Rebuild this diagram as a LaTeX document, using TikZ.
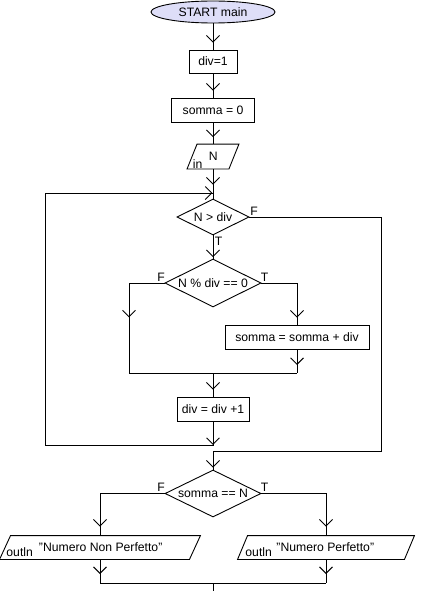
\documentclass[tikz,border=0pt]{standalone}
\usepackage{fontspec}
\setmainfont{Liberation Sans}
\usetikzlibrary{arrows.meta,shapes.geometric,decorations.markings}
\definecolor{startfill}{RGB}{222,222,248}
\tikzset{
  fctip/.tip={Straight Barb[length=6.5pt,width=13pt]},
  basefont/.style={font=\fontsize{12.2}{14}\selectfont, inner sep=0pt},
  startnode/.style={basefont, ellipse, draw, fill=startfill, minimum width=124pt, minimum height=22pt},
  procbox/.style={basefont, rectangle, draw, minimum height=24pt},
  decision/.style={basefont, diamond, draw},
  iobox/.style={basefont, rectangle, minimum height=23pt},
  txt/.style={basefont, anchor=base west},
  lbl/.style={basefont, anchor=center},
  arrowat/.style={postaction={decorate}, decoration={markings, mark=at position #1 with {\arrow{fctip}}}},
  loopback/.style={postaction={decorate}, decoration={markings,
      mark=at position 23.5pt with {\arrow{fctip}},
      mark=at position 0.999 with {\arrow{fctip}}}}
}
\newcommand\ioshape[2]{\draw ([xshift=#2]#1.north west) -- ([xshift=#2]#1.north east) -- ([xshift=-#2]#1.south east) -- ([xshift=-#2]#1.south west) -- cycle;}
\begin{document}
\begin{tikzpicture}[x=1pt, y=-1pt, line width=0.9pt]
\useasboundingbox (0,0) rectangle (432,591);

% nodes
\node[startnode] (start) at (213,12) {START main};
\node[procbox, minimum width=48pt, minimum height=23pt] (div1) at (213,61.5) {div=1};
\node[procbox, minimum width=83pt] (s0) at (213,110) {somma = 0};
\node[iobox, minimum width=41pt, minimum height=24pt] (inN) at (213,156.5) {};
\ioshape{inN}{5pt}
\node[txt] (inlbl) at (192.5,168) {in};
\node[txt] (Nlbl) at (208.5,160) {N};

\coordinate (j1) at (213,193);
\node[decision, minimum width=72pt, minimum height=36pt] (d1) at (213,217) {\makebox[0pt]{N > div}};
\node[decision, minimum width=96pt, minimum height=48pt] (d2) at (213,283) {\makebox[0pt]{N \% div == 0}};
\node[procbox, minimum width=144pt] (sum) at (297,337) {somma = somma + div};
\coordinate (jL) at (129,373);
\coordinate (jR) at (297,373);
\coordinate (j2) at (213,373);
\node[procbox, minimum width=72pt] (inc) at (213,409) {div = div +1};
\coordinate (lb) at (45,445);
\coordinate (fR) at (381,451);
\node[decision, minimum width=96pt, minimum height=47pt] (d3) at (213,493.5) {\makebox[0pt]{somma == N}};
\node[iobox, minimum width=189pt] (oL) at (100,547.5) {};
\ioshape{oL}{5.5pt}
\node[iobox, minimum width=166pt] (oR) at (326,547.5) {};
\ioshape{oR}{5pt}
\node[txt] (oLa) at (6,556.5) {outln};
\node[txt] (oLb) at (38.5,551) {"Numero Non Perfetto"};
\node[txt] (oRa) at (245,556.5) {outln};
\node[txt] (oRb) at (276,551) {"Numero Perfetto"};
\coordinate (kL) at (100,583);
\coordinate (kR) at (326,583);
\coordinate (j3) at (213,583);
\coordinate (bot) at (213,591);

% branch labels
\node[lbl] (fd1) at (254,211) {F};
\node[lbl] (td1) at (218.5,241) {T};
\node[lbl] (fd2) at (161,277) {F};
\node[lbl] (td2) at (264.5,277) {T};
\node[lbl] (fd3) at (161,487) {F};
\node[lbl] (td3) at (264.5,487) {T};

% connectors
\draw[arrowat=-7pt] (start.south) -- (div1.north);
\draw[arrowat=-7pt] (div1.south) -- (s0.north);
\draw[arrowat=-7pt] (s0.south) -- (inN.north);
\draw[arrowat=-14pt] (inN.south) -- (d1.north);
\draw[arrowat=-1.5pt] (d1.south) -- (d2.north);
\draw[arrowat=-7pt] (d2.east) -| (sum.north);
\draw[arrowat=70pt] (d2.west) -| (jL);
\draw[arrowat=-8pt] (sum.south) -- (jR);
\draw (jL) -- (jR);
\draw[arrowat=-7pt] (j2) -- (inc.north);
\draw[loopback] (inc.south) |- (lb) |- (j1);
\draw[arrowat=-2pt] (d1.east) -| (fR) -| (d3.north);
\draw[arrowat=-9pt] (d3.west) -| (oL.north);
\draw[arrowat=-9pt] (d3.east) -| (oR.north);
\draw[arrowat=-9pt] (oL.south) -- (kL);
\draw[arrowat=-9pt] (oR.south) -- (kR);
\draw (kL) -- (kR);
\draw (j3) -- (bot);
\end{tikzpicture}
\end{document}
